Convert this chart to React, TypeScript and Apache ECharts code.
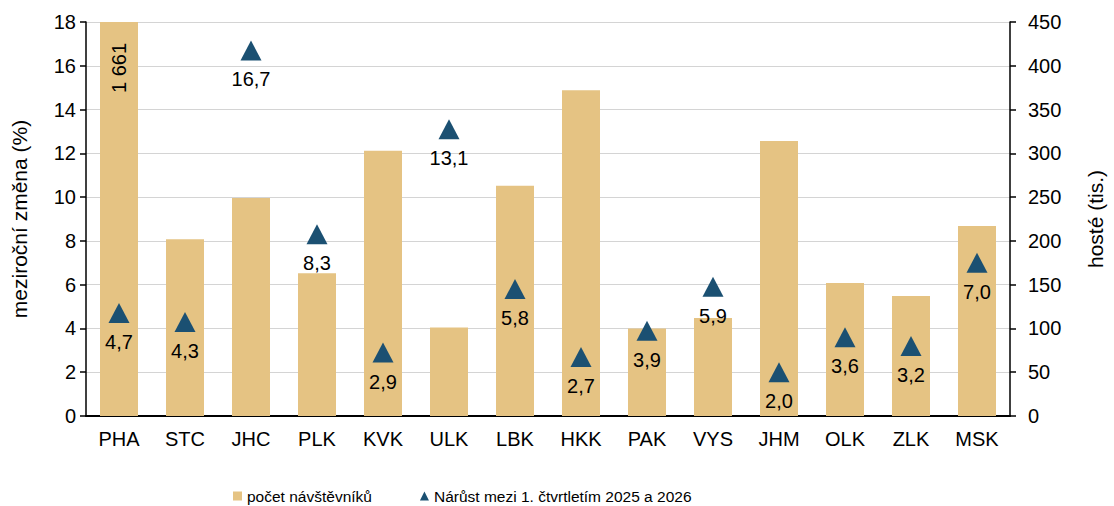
import React, { useEffect, useRef } from "react";
import * as echarts from "echarts";

const categories = ["PHA", "STC", "JHC", "PLK", "KVK", "ULK", "LBK", "HKK", "PAK", "VYS", "JHM", "OLK", "ZLK", "MSK"];
const visitors = [1661, 202, 249, 163, 303, 101, 263, 372, 100, 112, 314, 152, 137, 217];
const growth = [4.7, 4.3, 16.7, 8.3, 2.9, 13.1, 5.8, 2.7, 3.9, 5.9, 2.0, 3.6, 3.2, 7.0];
const leftTicks = { min: 0, max: 18, interval: 2 };
const rightTicks = { min: 0, max: 450, interval: 50 };
const seriesNames = ["počet návštěvníků", "Nárůst mezi 1. čtvrtletím 2025 a 2026"];
const axisNames = ["meziroční změna (%)", "hosté (tis.)"];

const FONT = "'Liberation Sans', Arial, sans-serif";
const BAR_COLOR = "#E5C383";
const TRI_COLOR = "#1B5072";

const fmtThousands = (v: number) => String(v).replace(/\B(?=(\d{3})+(?!\d))/g, " ");
const fmtDec = (v: number) => v.toFixed(1).replace(".", ",");

export default function App() {
  const ref = useRef<HTMLDivElement>(null);
  useEffect(() => {
    if (!ref.current) return;
    const chart = echarts.init(ref.current, null, { renderer: "svg" });
    const barData = visitors.map((v) =>
      v > rightTicks.max
        ? {
            value: v,
            label: {
              show: true,
              formatter: () => fmtThousands(v),
              position: ["50%", 46],
              rotate: 90,
              align: "center",
              verticalAlign: "middle",
              color: "#000",
              fontSize: 20,
              fontFamily: FONT,
            },
          }
        : v
    );
    chart.setOption({
      animation: false,
      backgroundColor: "#fff",
      textStyle: { fontFamily: FONT, color: "#000" },
      grid: { left: 86, right: 96, top: 22, bottom: 90, containLabel: false },
      legend: {
        top: 483,
        left: 228,
        itemWidth: 9,
        itemHeight: 9,
        itemGap: 48,
        textStyle: { fontSize: 15.5, color: "#000", fontFamily: FONT },
        data: [
          { name: seriesNames[0], icon: "rect" },
          { name: seriesNames[1], icon: "triangle" },
        ],
      },
      xAxis: {
        type: "category",
        data: categories,
        axisLine: { lineStyle: { color: "#000", width: 2 } },
        axisTick: { show: false },
        axisLabel: { fontSize: 20, color: "#000", margin: 13, fontFamily: FONT },
      },
      yAxis: [
        {
          type: "value",
          position: "left",
          min: leftTicks.min,
          max: leftTicks.max,
          interval: leftTicks.interval,
          name: axisNames[0],
          nameLocation: "middle",
          nameRotate: 90,
          nameGap: 56,
          nameTextStyle: { fontSize: 21, color: "#000", fontFamily: FONT },
          axisLine: { show: true, lineStyle: { color: "#000", width: 1.5 } },
          axisTick: { show: true, length: 6, lineStyle: { color: "#000", width: 1.5 } },
          axisLabel: { fontSize: 20, color: "#000", margin: 10, fontFamily: FONT },
          splitLine: { show: true, lineStyle: { color: "#D4D4D4", width: 1.2 } },
        },
        {
          type: "value",
          position: "right",
          min: rightTicks.min,
          max: rightTicks.max,
          interval: rightTicks.interval,
          name: axisNames[1],
          nameLocation: "middle",
          nameRotate: 90,
          nameGap: 75,
          nameTextStyle: { fontSize: 21, color: "#000", fontFamily: FONT },
          axisLine: { show: true, lineStyle: { color: "#000", width: 1.5 } },
          axisTick: { show: true, length: 6, lineStyle: { color: "#000", width: 1.5 } },
          axisLabel: { fontSize: 20, color: "#000", margin: 18, fontFamily: FONT },
          splitLine: { show: false },
        },
      ],
      series: [
        {
          name: seriesNames[0],
          type: "bar",
          yAxisIndex: 1,
          data: barData,
          barWidth: 38,
          clip: true,
          itemStyle: { color: BAR_COLOR },
          label: { show: false },
          z: 2,
        },
        {
          name: seriesNames[1],
          type: "scatter",
          yAxisIndex: 0,
          data: growth,
          symbol: "triangle",
          symbolSize: [21, 20],
          itemStyle: { color: TRI_COLOR, opacity: 1 },
          label: {
            show: true,
            position: "bottom",
            distance: 9,
            formatter: (p: any) => fmtDec(p.value),
            fontSize: 20,
            color: "#000",
            fontFamily: FONT,
          },
          z: 5,
        },
      ],
    });
    return () => chart.dispose();
  }, []);
  return <div ref={ref} style={{ position: "fixed", left: 0, top: 0, width: 1114, height: 506 }} />;
}
